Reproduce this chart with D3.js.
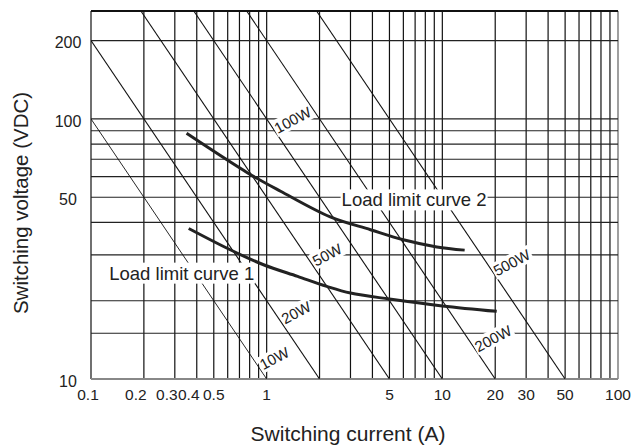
<!DOCTYPE html>
<html>
<head>
<meta charset="utf-8">
<script src="https://cdn.jsdelivr.net/npm/d3@7"></script>
<style>
  body { margin: 0; background: #fff; }
  text { font-family: Arial, "Liberation Sans", sans-serif; fill: #222; }
</style>
</head>
<body>
<div id="chart"></div>
<script>
// grid / tick values
const xGrid = [0.1, 0.2, 0.3, 0.4, 0.5, 0.6, 0.7, 0.8, 0.9, 1, 2, 3, 4, 5, 6, 7, 8, 9, 10, 20, 30, 40, 50, 60, 70, 80, 90, 100];
const yGrid = [10, 15, 20, 30, 40, 50, 60, 70, 80, 90, 100, 200];
const xTickLabels = [0.1, 0.2, 0.3, 0.4, 0.5, 1, 5, 10, 20, 30, 50, 100];
const yTickLabels = [10, 50, 100, 200];

// constant power lines (W) and the voltage where each label sits
const powerWatts = [10, 20, 50, 100, 200, 500];
const powerLabelVolts = [12, 18, 30, 99, 14.3, 28];

// load limit curves
const curve1Current = [0.36, 0.62, 0.96, 1.5, 2.2, 3, 5, 10, 20.4];
const curve1Voltage = [37.9, 31.4, 27.5, 24.8, 22.7, 21.4, 20.3, 19.1, 18.2];
const curve2Current = [0.35, 0.78, 1.2, 2.3, 3.9, 6, 9.3, 13.4];
const curve2Voltage = [88, 62, 52.7, 42, 37.5, 34.3, 32.2, 31.3];

// curve names and where their text starts (current, voltage at baseline)
const curveNames = ["Load limit curve 1", "Load limit curve 2"];
const curveNameCurrent = [0.127, 2.67];
const curveNameVoltage = [24.1, 46.1];

const W = 633, H = 447;
const margin = { top: 11, right: 15, bottom: 68, left: 91 },
      width = W - margin.left - margin.right,
      height = H - margin.top - margin.bottom;

const svg = d3.select("#chart").append("svg")
    .attr("width", W).attr("height", H)
  .append("g")
    .attr("transform", `translate(${margin.left},${margin.top})`);

const x = d3.scaleLog().domain([0.1, 100]).range([0, width]);
const y = d3.scaleLog().domain([10, 260]).range([height, 0]);

svg.append("defs").append("clipPath").attr("id", "plotClip")
  .append("rect").attr("width", width).attr("height", height);

// grid
svg.append("g").selectAll("line").data(xGrid).enter().append("line")
   .attr("x1", d => x(d)).attr("x2", d => x(d))
   .attr("y1", 0).attr("y2", height)
   .attr("stroke", d => d === 100 ? "#888" : "#111")
   .attr("stroke-width", d => d === 100 ? 1.6 : 1.2);

svg.append("g").selectAll("line").data(yGrid).enter().append("line")
   .attr("x1", 0).attr("x2", width)
   .attr("y1", d => y(d)).attr("y2", d => y(d))
   .attr("stroke", d => d === 10 ? "#888" : "#222")
   .attr("stroke-width", d => d === 10 ? 1.8 : 1.1);

// top edge of frame
svg.append("line").attr("x1", 0).attr("x2", width).attr("y1", 0).attr("y2", 0)
   .attr("stroke", "#111").attr("stroke-width", 2);

// tick labels
svg.append("g").selectAll("text").data(xTickLabels).enter().append("text")
   .attr("x", d => x(d) - (d > 0.1 && d < 0.5 ? 8 : (d === 0.1 ? 3 : 0)))
   .attr("y", height + 21)
   .attr("text-anchor", "middle")
   .style("font-size", "15.5px")
   .text(d => d);

svg.append("g").selectAll("text").data(yTickLabels).enter().append("text")
   .attr("x", -23)
   .attr("y", d => y(d) + 2)
   .attr("dy", "0.35em")
   .attr("text-anchor", "middle")
   .style("font-size", "16px")
   .text(d => d);

// power lines
const plot = svg.append("g").attr("clip-path", "url(#plotClip)");
plot.selectAll("line.power").data(powerWatts).enter().append("line")
    .attr("class", "power")
    .attr("x1", p => x(Math.max(0.1, p / 260)))
    .attr("y1", p => y(p / Math.max(0.1, p / 260)))
    .attr("x2", p => x(p / 10))
    .attr("y2", y(10))
    .attr("stroke", "#111")
    .attr("stroke-width", p => p === 10 ? 0.9 : 1.1);

// labels with white boxes
function boxedLabel(g) {
  const b = g.select("text").node().getBBox();
  g.insert("rect", "text")
   .attr("x", b.x - 1).attr("y", b.y)
   .attr("width", b.width + 2).attr("height", b.height)
   .attr("fill", "#fff");
}

powerWatts.forEach((p, i) => {
  const v = powerLabelVolts[i];
  const g = svg.append("g");
  const t = g.append("text")
     .attr("text-anchor", "middle")
     .attr("dy", "0.35em")
     .style("font-size", "15px")
     .text(p + "W");
  const len = t.node().getComputedTextLength();
  const cx = x(p / v) + len / 2 * 0.88 + 8;
  g.attr("transform", `translate(${cx},${y(v)}) rotate(-28)`);
  boxedLabel(g);
});

curveNames.forEach((name, i) => {
  const g = svg.append("g")
     .attr("transform", `translate(${x(curveNameCurrent[i])},${y(curveNameVoltage[i])})`);
  g.append("text").style("font-size", "18.5px").text(name);
  boxedLabel(g);
});

// load limit curves
const line = d3.line()
    .x(d => x(d[0]))
    .y(d => y(d[1]))
    .curve(d3.curveCatmullRom);

[[curve1Current, curve1Voltage], [curve2Current, curve2Voltage]].forEach(([c, v]) => {
  svg.append("path")
     .datum(c.map((d, i) => [d, v[i]]))
     .attr("d", line)
     .attr("fill", "none")
     .attr("stroke", "#222")
     .attr("stroke-width", 3);
});

// axis titles
svg.append("text")
   .attr("x", 348 - margin.left).attr("y", 441 - margin.top)
   .attr("text-anchor", "middle")
   .style("font-size", "21px")
   .text("Switching current (A)");

svg.append("text")
   .attr("transform", `translate(${28 - margin.left},${203 - margin.top}) rotate(-90)`)
   .attr("text-anchor", "middle")
   .style("font-size", "20.5px")
   .text("Switching voltage (VDC)");
</script>
</body>
</html>
